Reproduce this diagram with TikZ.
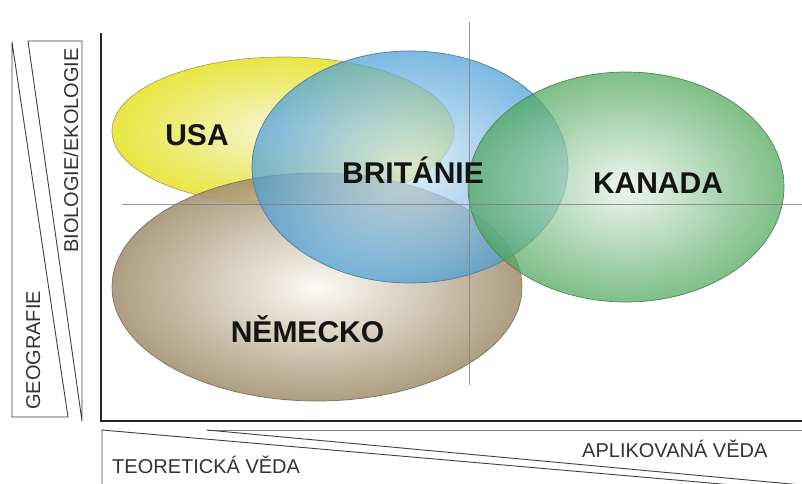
\documentclass[tikz,border=0pt]{standalone}
\usepackage{fontspec}
\setmainfont{Liberation Sans}
\begin{document}
\begin{tikzpicture}[x=1pt,y=-1pt,
  axis/.style={draw=black!85, line width=1.5pt},
  wedge/.style={draw=black!75, line width=0.9pt},
  wedgelight/.style={draw=black!50, line width=0.9pt},
  guide/.style={draw=black!50, line width=0.8pt, draw opacity=0.8},
  region/.style={line width=0.7pt},
  country/.style={font=\bfseries\fontsize{30}{30}\selectfont, text=black!92, inner sep=0pt, anchor=base},
  scalelabel/.style={font=\fontsize{20}{20}\selectfont, text=black!80, inner sep=0pt, anchor=base west},
]
\useasboundingbox (0,0) rectangle (802,483);
\fill[white] (0,0) rectangle (802,483);

% colours of the four regions
\definecolor{usaEdge}{HTML}{E9E642}
\definecolor{usaCore}{HTML}{F7F5D6}
\definecolor{usaLine}{HTML}{A8A46A}
\definecolor{gbEdge}{HTML}{4A9FD8}
\definecolor{gbCore}{HTML}{D6E9F5}
\definecolor{gbLine}{HTML}{4E7C9A}
\definecolor{caEdge}{HTML}{4CA65A}
\definecolor{caCore}{HTML}{EAF4EA}
\definecolor{caLine}{HTML}{4E8656}
\definecolor{deEdge}{HTML}{A39070}
\definecolor{deCore}{HTML}{FCFAF3}
\definecolor{deLine}{HTML}{7E705C}

% overlapping regions
\path[region, draw=usaLine, shade, inner color=usaCore, outer color=usaEdge]
  (283,131) ellipse [x radius=171pt, y radius=74pt];
\path[region, draw=deLine, shade, inner color=deCore, outer color=deEdge, fill opacity=0.88]
  (317,287) ellipse [x radius=205pt, y radius=114pt];
\path[region, draw=gbLine, shade, inner color=gbCore, outer color=gbEdge, fill opacity=0.72]
  (410,167) ellipse [x radius=158pt, y radius=116pt];
\path[region, draw=caLine, shade, inner color=caCore, outer color=caEdge, fill opacity=0.72]
  (626,187) ellipse [x radius=158pt, y radius=115pt];

% guide cross
\coordinate (vtop) at (469,22);
\coordinate (vbot) at (469,385);
\coordinate (hleft) at (122,204);
\coordinate (hright) at (802,204);
\draw[guide] (vtop) -- (vbot);
\draw[guide] (hleft) -- (hright);

% main axes
\coordinate (axtop) at (101,33);
\coordinate (axorigin) at (101,421);
\coordinate (axright) at (802,421);
\draw[axis] (axtop) -- (axorigin) -- (axright);

% vertical scale wedges
\draw[wedge] (12,42) -- (12,417) -- (68,417) -- cycle;
\draw[wedge] (28,41) -- (82,41) -- (82,421) -- cycle;

% horizontal scale wedges
\begin{scope}
\clip (0,0) rectangle (802,483);
\draw[wedge] (102,490) -- (102,430) -- (802,491);
\draw[wedgelight] (802,430) -- (207,430);
\draw[wedge] (207,430) -- (802,485);
\end{scope}

% labels
\node[country] (usa) at (197,145) {USA};
\node[country] (gb) at (413,183) {BRITÁNIE};
\node[country] (ca) at (658,193) {KANADA};
\node[country] (de) at (307.5,342) {NĚMECKO};

\node[scalelabel, rotate=90] (geo) at (40,410) {GEOGRAFIE};
\node[scalelabel, rotate=90] (bio) at (78,253) {BIOLOGIE/EKOLOGIE};
\node[scalelabel] (theo) at (112,473) {TEORETICKÁ VĚDA};
\node[scalelabel] (appl) at (582,457) {APLIKOVANÁ VĚDA};
\end{tikzpicture}
\end{document}
